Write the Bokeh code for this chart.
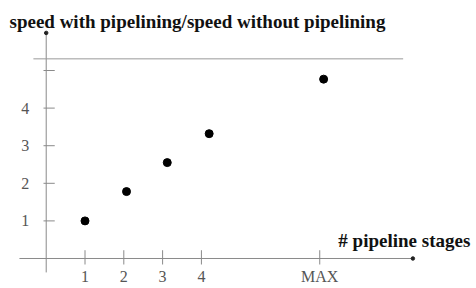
from bokeh.plotting import figure
from bokeh.models import Range1d
from bokeh.core.properties import value
from bokeh.embed import file_html
from bokeh.resources import INLINE

# data
stages = [1.0, 2.07, 3.12, 4.2, 7.15]
speedup = [1.0, 1.78, 2.55, 3.32, 4.77]
x_ticks = [1, 2, 3, 4, 7.05]
x_tick_labels = ["1", "2", "3", "4", "MAX"]
y_ticks = [1, 2, 3, 4, 5]
y_tick_labels = ["1", "2", "3", "4", ""]
limit_level = [5.31]

title = "speed with pipelining/speed without pipelining"
x_label = "# pipeline stages"

p = figure(width=476, height=288, output_backend="svg", toolbar_location=None,
           x_range=Range1d(-1.178, 11.090), y_range=Range1d(-0.798, 6.862),
           min_border=0, outline_line_color=None)
p.axis.visible = False
p.grid.visible = False

axis_col = "#8a8a8a"
# axes lines
p.segment(x0=[-0.69], y0=[0], x1=[9.45], y1=[0], line_color=axis_col, line_width=1)
p.segment(x0=[0], y0=[-0.37], x1=[0], y1=[6.0], line_color=axis_col, line_width=1)
p.scatter(x=[9.45, 0], y=[0, 6.0], size=3.5, color="#222222")
# horizontal limit line
p.segment(x0=[-0.33], y0=limit_level, x1=[9.2], y1=limit_level, line_color="#999999", line_width=1)

# ticks
p.segment(x0=x_ticks, y0=[-0.16] * len(x_ticks), x1=x_ticks, y1=[0.22] * len(x_ticks),
          line_color=axis_col, line_width=1)
p.segment(x0=[-0.07] * len(y_ticks), y0=y_ticks, x1=[0.22] * len(y_ticks), y1=y_ticks,
          line_color=axis_col, line_width=1)

# tick labels
p.text(x=x_ticks, y=[-0.48] * len(x_ticks), text=x_tick_labels, text_align="center",
       text_baseline="middle", text_font=value("Liberation Serif"),
       text_font_size="16px", text_color="#555555")
p.text(x=[-0.44] * len(y_ticks), y=y_ticks, text=y_tick_labels, text_align="right",
       text_baseline="middle", text_font=value("Liberation Serif"),
       text_font_size="16px", text_color="#555555")

# points
p.scatter(x=stages, y=speedup, size=8, color="black")

# titles
p.text(x=[-0.946], y=[6.31], text=[title], text_align="left", text_baseline="alphabetic",
       text_font=value("Liberation Serif"), text_font_style="bold",
       text_font_size="19px", text_color="#111111")
p.text(x=[7.53], y=[0.48], text=[x_label], text_align="left", text_baseline="alphabetic",
       text_font=value("Liberation Serif"), text_font_style="bold",
       text_font_size="19px", text_color="#111111")

open("out.html", "w").write(file_html(p, INLINE))
